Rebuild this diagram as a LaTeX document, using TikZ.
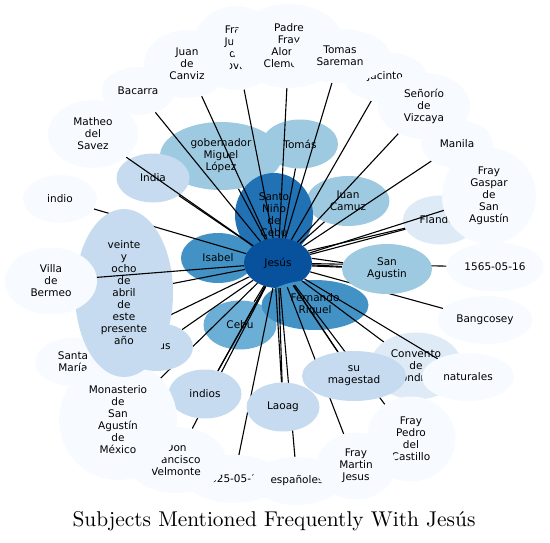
\documentclass[tikz,border=0pt]{standalone}
\usepackage{fontspec}
\usepackage{tikz}
\usetikzlibrary{shapes.geometric}
\newfontfamily\lblfont{DejaVu Sans}
\newfontfamily\titlefont{lmroman10-regular}[Extension=.otf]
\definecolor{tone1}{HTML}{08519C}
\definecolor{tone2}{HTML}{2171B5}
\definecolor{tone3}{HTML}{4292C6}
\definecolor{tone4}{HTML}{6BAED6}
\definecolor{tone5}{HTML}{9ECAE1}
\definecolor{tone6}{HTML}{C6DBEF}
\definecolor{tone7}{HTML}{DEEBF7}
\definecolor{tone8}{HTML}{F7FBFF}
\pgfdeclarelayer{low}
\pgfdeclarelayer{links}
\pgfsetlayers{low,links,main}

\begin{document}
\begin{tikzpicture}[x=1pt,y=-1pt,
	bubble/.style={ellipse, inner sep=0pt, align=center, font=\lblfont\fontsize{10.5}{12}\selectfont},
	wh/.style 2 args={minimum width=#1pt, minimum height=#2pt},
	link/.style={draw=black, line width=1.1pt}]
	\useasboundingbox (0,0) rectangle (550,542);
	
	% Nodes under the links
	\begin{pgfonlayer}{low}
	\node[bubble, fill=tone5, wh={122}{68}] (gob) at (221,156) {gobernador\\Miguel\\López};
	\node[bubble, fill=tone5, wh={76}{49}] (tomas) at (300,144) {Tomás};
	\node[bubble, fill=tone5, wh={83}{50}] (camuz) at (348,201) {Juan\\Camuz};
	\node[bubble, fill=tone6, wh={73}{49}] (india) at (153,178) {India};
	\node[bubble, fill=tone7, wh={92}{67}] (convento) at (416,366) {Convento\\de\\Londres};
	\node[bubble, fill=tone7, wh={74}{49}] (flandes) at (440,220) {Flandes};
	\node[bubble, fill=tone2, wh={78}{84}] (nino) at (274,215) {Santo\\Niño\\de\\Cebu};
	\node[bubble, fill=tone3, wh={74}{50}] (isabel) at (218,258) {Isabel};
	\node[bubble, fill=tone1, wh={68}{50}] (jesus) at (278,263) {Jesús};
	\node[bubble, fill=tone4, wh={73}{49}] (cebu) at (240,325) {Cebu};
	\node[bubble, fill=tone3, wh={107}{50}] (riquel) at (315,305) {Fernando\\Riquel};
	\end{pgfonlayer}
	
	% Nodes over the links
	\node[bubble, fill=tone8, wh={90}{68}] (matheo) at (93,134) {Matheo\\del\\Savez};
	\node[bubble, fill=tone8, wh={73}{48}] (bacarra) at (138,91) {Bacarra};
	\node[bubble, fill=tone8, wh={88}{84}] (tovar) at (236,48) {Fray\\Juan\\de\\Tovar};
	\node[bubble, fill=tone8, wh={86}{68}] (canviz) at (187,64) {Juan\\de\\Canviz};
	\node[bubble, fill=tone8, wh={112}{84}] (padre) at (289,46) {Padre\\Fray\\Alonso\\Clemente};
	\node[bubble, fill=tone8, wh={84}{50}] (jacinto) at (385,77) {Jacinto};
	\node[bubble, fill=tone8, wh={100}{54}] (sareman) at (340,56) {Tomas\\Sareman};
	\node[bubble, fill=tone8, wh={92}{66}] (vizcaya) at (424,106) {Señorío\\de\\Vizcaya};
	\node[bubble, fill=tone8, wh={72}{48}] (manila) at (457,144) {Manila};
	\node[bubble, fill=tone8, wh={94}{96}] (gaspar) at (489,196) {Fray\\Gaspar\\de\\San\\Agustín};
	\node[bubble, fill=tone5, wh={90}{50}] (sanagustin) at (387,269) {San\\Agustin};
	\node[bubble, fill=tone8, wh={97}{49}] (stamp) at (495,267) {1565-05-16};
	\node[bubble, fill=tone8, wh={95}{48}] (bangcosey) at (485,320) {Bangcosey};
	\node[bubble, fill=tone6, wh={104}{50}] (magestad) at (354,376) {su\\magestad};
	\node[bubble, fill=tone8, wh={92}{48}] (naturales) at (468,377) {naturales};
	\node[bubble, fill=tone8, wh={89}{85}] (pedro) at (411,439) {Fray\\Pedro\\del\\Castillo};
	\node[bubble, fill=tone6, wh={73}{49}] (laoag) at (283,407) {Laoag};
	\node[bubble, fill=tone8, wh={96}{48}] (fecha) at (234,479) {1625-05-16};
	\node[bubble, fill=tone8, wh={90}{48}] (espanoles) at (297,481) {españoles};
	\node[bubble, fill=tone8, wh={79}{67}] (martin) at (356,466) {Fray\\Martin\\Jesus};
	\node[bubble, fill=tone6, wh={73}{49}] (indios) at (205,394) {indios};
	\node[bubble, fill=tone8, wh={100}{66}] (velmonte) at (176,460) {Don\\Francisco\\Velmonte};
	\node[bubble, fill=tone8, wh={76}{48}] (santamaria) at (73,362) {Santa\\María};
	\node[bubble, fill=tone8, wh={118}{120}] (monasterio) at (118,420) {Monasterio\\de\\San\\Agustín\\de\\México};
	\node[bubble, fill=tone6, wh={72}{48}] (jesus2) at (157,347) {Jesus};
	\node[bubble, fill=tone6, wh={98}{168}] (veinte) at (124,293) {veinte\\y\\ocho\\de\\abril\\de\\este\\presente\\año};
	\node[bubble, fill=tone8, wh={92}{67}] (villa) at (51,281) {Villa\\de\\Bermeo};
	\node[bubble, fill=tone8, wh={74}{48}] (indio) at (60,199) {indio};
	\draw[link] (jesus) -- (villa);
	
	% Links
	\begin{pgfonlayer}{links}
	\foreach \t in {gob,tomas,camuz,india,convento,flandes,cebu,matheo,bacarra,tovar,canviz,padre,jacinto,sareman,vizcaya,manila,gaspar,sanagustin,stamp,bangcosey,magestad,naturales,pedro,laoag,fecha,espanoles,martin,indios,velmonte,santamaria,monasterio,jesus2,veinte,indio}
		\draw[link] (jesus) -- (\t);
	\draw[link] (jesus.8) -- (sanagustin);
	\draw[link] (jesus.-5) -- (sanagustin);
	\draw[link] (jesus.22) -- (flandes);
	\draw[link] (jesus.-55) -- (magestad);
	\draw[link] (jesus.-95) -- (laoag);
	\draw[link] (jesus.-118) -- (indios);
	\end{pgfonlayer}
	
	\node[font=\titlefont\fontsize{21.4}{24}\selectfont] (title) at (274,521) {Subjects Mentioned Frequently With Jesús};
\end{tikzpicture}
\end{document}
